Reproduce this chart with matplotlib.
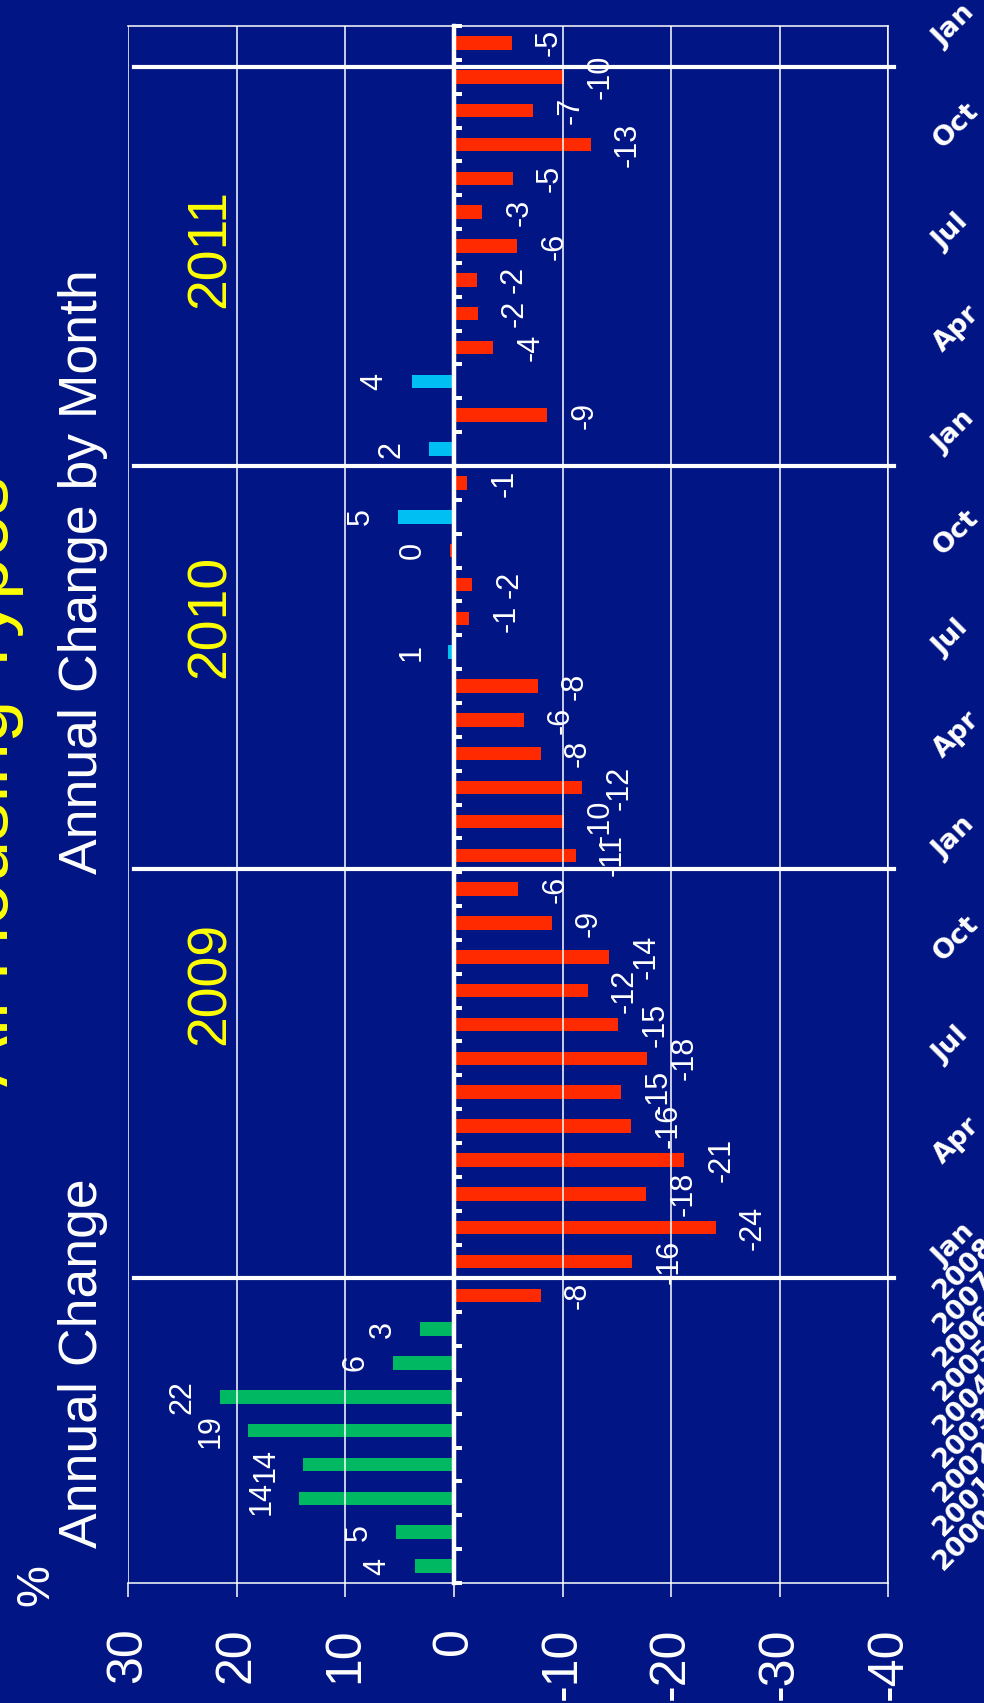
import matplotlib
matplotlib.use('Agg')
import matplotlib.pyplot as plt
from matplotlib import transforms

plt.rcParams['axes.unicode_minus'] = False

# annual change 2000-2008, then monthly Jan 2009 .. Jan 2012 (%)
years = ['2000', '2001', '2002', '2003', '2004', '2005', '2006', '2007', '2008']
annual = [3.6, 5.3, 14.3, 13.9, 19.0, 21.6, 5.6, 3.1, -8.0]
m2009 = [-16.4, -24.1, -17.7, -21.2, -16.3, -15.4, -17.8, -15.1, -12.3, -14.3, -9.0, -5.9]
m2010 = [-11.2, -10.1, -11.8, -8.0, -6.4, -7.7, 0.52, -1.4, -1.7, 0.35, 5.2, -1.2]
m2011 = [2.3, -8.6, 3.9, -3.6, -2.2, -2.1, -5.8, -2.6, -5.4, -12.6, -7.3, -10.1]
m2012 = [-5.3]
month_names = ['Jan', '', '', 'Apr', '', '', 'Jul', '', '', 'Oct', '', '']
period_names = ['2009', '2010', '2011']
value_ticks = [30, 20, 10, 0, -10, -20, -30, -40]
separators = [8.5, 20.6, 32.5, 44.3]

NAVY = '#011584'
RED = '#ff2a00'
CYAN = '#00bff2'
GREEN = '#00b862'
YELLOW = '#ffff00'
NARROW = ['Liberation Sans Narrow', 'Liberation Sans']

values = annual + m2009 + m2010 + m2011 + m2012
cat_labels = years + month_names * 3 + ['Jan']
n_annual = len(annual)
pos = list(range(len(values)))

colors = []
for i, v in enumerate(values):
    if round(v) <= 0:
        colors.append(RED)
    elif i < n_annual:
        colors.append(GREEN)
    else:
        colors.append(CYAN)

W, H = 984, 1703
fig = plt.figure(figsize=(W / 100, H / 100), dpi=100, facecolor=NAVY)
ax = fig.add_axes([128.3 / W, 1 - 1583 / H, 760 / W, 1557 / H])
ax.set_facecolor(NAVY)

ax.barh(pos, values, height=0.4, color=colors)
ax.set_xlim(30, -40)
ax.set_ylim(-0.5, len(values) - 0.5)

for i, v in enumerate(values):
    if v > 0:
        off, ha = -16, 'right'
    else:
        off, ha = 16, 'left'
    ax.annotate('%d' % round(v), xy=(v, i), xytext=(off, 0),
                textcoords='offset points', rotation=90, ha=ha, va='center',
                color='white', fontsize=22, family='Liberation Sans')

# value axis
ax.set_xticks(value_ticks)
ax.set_xticklabels([str(t) for t in value_ticks], rotation=90,
                   family=NARROW, fontsize=36, color='white')
ax.xaxis.grid(True, color='white', lw=1.1)
ax.tick_params(axis='x', direction='out', length=10, width=1.1,
               color='white', pad=22)

# category axis: zero line with ticks between bars, labels at right
ax.spines['left'].set_position(('data', 0))
ax.spines['left'].set_linewidth(3.2)
ax.spines['left'].set_zorder(3)
for s in ['top', 'bottom', 'right']:
    ax.spines[s].set_linewidth(1.1)
for s in ax.spines.values():
    s.set_color('white')

ax.set_yticks(pos)
ax.set_yticks([p - 0.5 for p in pos] + [len(values) - 0.5], minor=True)
ax.set_yticklabels(cat_labels)
ax.tick_params(axis='y', which='major', left=False, right=False,
               labelleft=False, labelright=True, pad=32)
ax.tick_params(axis='y', which='minor', left=True, right=False,
               direction='in', length=5.5, width=2.9, color='white')
for lbl in ax.get_yticklabels():
    lbl.set_rotation(45)
    lbl.set_rotation_mode('anchor')
    lbl.set_ha('left')
    lbl.set_va('center')
    lbl.set_color('white')
    lbl.set_fontsize(19.5)
    lbl.set_fontweight('bold')
    lbl.set_family('DejaVu Sans')

# year separators
tr = transforms.blended_transform_factory(ax.transAxes, ax.transData)
for y in separators:
    ax.plot([0.008, 1.008], [y, y], transform=tr, color='white', lw=3,
            clip_on=False, zorder=4)


def fpos(x, y):
    return x / W, 1 - y / H


# texts
fig.text(*fpos(8, 1086), 'All Housing Types', rotation=90, rotation_mode='anchor',
         ha='left', va='baseline', color=YELLOW, fontsize=55, family=NARROW)
fig.text(*fpos(97, 874), 'Annual Change by Month', rotation=90, rotation_mode='anchor',
         ha='left', va='baseline', color='white', fontsize=38.5, family=NARROW)
fig.text(*fpos(97, 1548), 'Annual Change', rotation=90, rotation_mode='anchor',
         ha='left', va='baseline', color='white', fontsize=38.5, family=NARROW)
fig.text(*fpos(48, 1606), '%', rotation=90, rotation_mode='anchor',
         ha='left', va='baseline', color='white', fontsize=34, family=NARROW)
for name, ystart in zip(period_names, [1045, 678, 308]):
    fig.text(*fpos(225, ystart), name, rotation=90, rotation_mode='anchor',
             ha='left', va='baseline', color=YELLOW, fontsize=40, family=NARROW)

fig.savefig('out.png', dpi=100, facecolor=NAVY)
